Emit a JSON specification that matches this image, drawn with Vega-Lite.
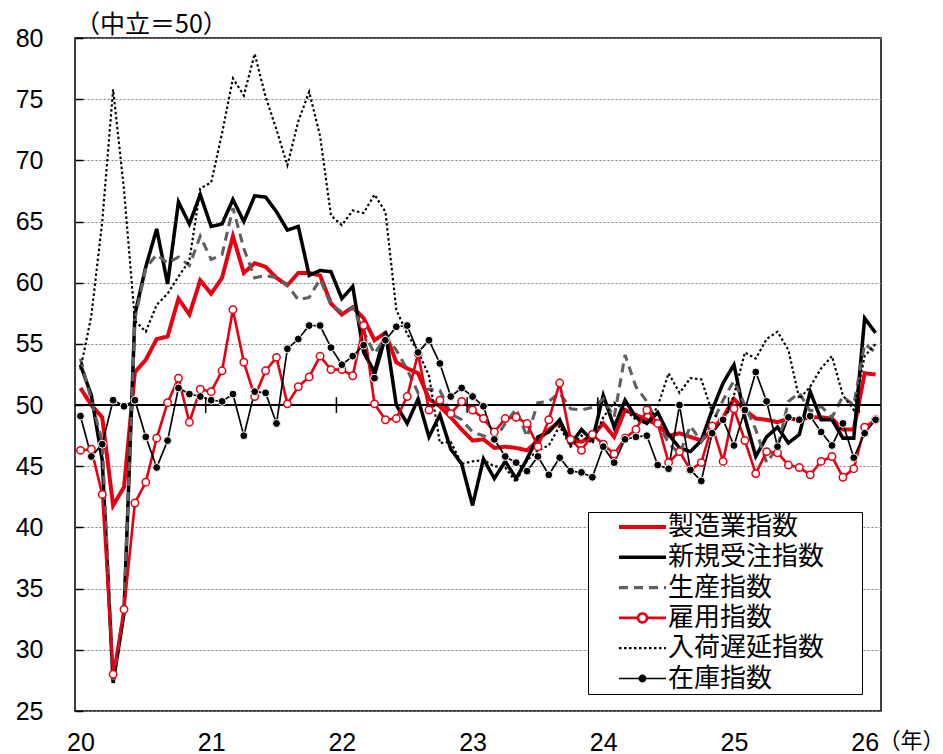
{
  "$schema": "https://vega.github.io/schema/vega-lite/v6.json",
  "width": 806,
  "height": 673,
  "autosize": {"type": "none"},
  "padding": {"left": 75, "top": 38, "right": 62, "bottom": 43},
  "background": "white",
  "title": {"text": "（中立＝50）", "anchor": "start", "frame": "group", "font": "Noto Sans CJK JP", "fontSize": 25, "fontWeight": "normal", "color": "#000", "baseline": "alphabetic", "offset": 6, "dy": 38},
  "config": {
    "font": "Liberation Sans",
    "view": {"stroke": "#000", "strokeWidth": 1.5}
  },
  "datasets": {
    "yb": [{"t": 11.5}, {"t": 23.5}, {"t": 35.5}, {"t": 47.5}, {"t": 59.5}, {"t": 71.5}],
    "pmi": [
      {"t":0,"製造業指数":51.4,"新規受注指数":53.3,"生産指数":53.8,"雇用指数":46.3,"入荷遅延指数":52.9,"在庫指数":49.1},
      {"t":1,"製造業指数":50.0,"新規受注指数":50.8,"生産指数":50.4,"雇用指数":46.4,"入荷遅延指数":57.3,"在庫指数":45.8},
      {"t":2,"製造業指数":49.0,"新規受注指数":45.5,"生産指数":47.0,"雇用指数":42.7,"入荷遅延指数":65.0,"在庫指数":46.8},
      {"t":3,"製造業指数":41.8,"新規受注指数":27.3,"生産指数":27.3,"雇用指数":28.0,"入荷遅延指数":75.8,"在庫指数":50.4},
      {"t":4,"製造業指数":43.3,"新規受注指数":33.0,"生産指数":33.5,"雇用指数":33.3,"入荷遅延指数":67.6,"在庫指数":49.9},
      {"t":5,"製造業指数":52.7,"新規受注指数":57.4,"生産指数":57.0,"雇用指数":42.0,"入荷遅延指数":56.9,"在庫指数":50.4},
      {"t":6,"製造業指数":53.7,"新規受注指数":61.3,"生産指数":61.2,"雇用指数":43.7,"入荷遅延指数":56.0,"在庫指数":47.4},
      {"t":7,"製造業指数":55.4,"新規受注指数":64.4,"生産指数":62.3,"雇用指数":47.3,"入荷遅延指数":58.2,"在庫指数":44.9},
      {"t":8,"製造業指数":55.6,"新規受注指数":59.9,"生産指数":61.6,"雇用指数":50.2,"入荷遅延指数":59.1,"在庫指数":47.1},
      {"t":9,"製造業指数":58.7,"新規受注指数":66.6,"生産指数":62.1,"雇用指数":52.2,"入荷遅延指数":60.5,"在庫指数":51.4},
      {"t":10,"製造業指数":57.4,"新規受注指数":64.8,"生産指数":61.4,"雇用指数":48.6,"入荷遅延指数":61.8,"在庫指数":50.9},
      {"t":11,"製造業指数":60.2,"新規受注指数":67.2,"生産指数":63.8,"雇用指数":51.3,"入荷遅延指数":67.7,"在庫指数":50.7},
      {"t":12,"製造業指数":59.1,"新規受注指数":64.6,"生産指数":61.9,"雇用指数":51.1,"入荷遅延指数":68.2,"在庫指数":50.4},
      {"t":13,"製造業指数":60.4,"新規受注指数":64.8,"生産指数":62.3,"雇用指数":52.8,"入荷遅延指数":72.2,"在庫指数":50.3},
      {"t":14,"製造業指数":63.8,"新規受注指数":66.8,"生産指数":66.1,"雇用指数":57.8,"入荷遅延指数":76.7,"在庫指数":50.9},
      {"t":15,"製造業指数":60.8,"新規受注指数":65.0,"生産指数":62.8,"雇用指数":53.5,"入荷遅延指数":75.3,"在庫指数":47.5},
      {"t":16,"製造業指数":61.6,"新規受注指数":67.1,"生産指数":60.4,"雇用指数":50.7,"入荷遅延指数":78.7,"在庫指数":51.1},
      {"t":17,"製造業指数":61.3,"新規受注指数":67.0,"生産指数":60.6,"雇用指数":52.8,"入荷遅延指数":75.2,"在庫指数":51.0},
      {"t":18,"製造業指数":60.4,"新規受注指数":65.8,"生産指数":60.4,"雇用指数":53.9,"入荷遅延指数":72.5,"在庫指数":48.5},
      {"t":19,"製造業指数":59.8,"新規受注指数":64.3,"生産指数":59.8,"雇用指数":50.1,"入荷遅延指数":69.6,"在庫指数":54.6},
      {"t":20,"製造業指数":60.8,"新規受注指数":64.6,"生産指数":58.6,"雇用指数":51.5,"入荷遅延指数":73.2,"在庫指数":55.4},
      {"t":21,"製造業指数":60.8,"新規受注指数":60.6,"生産指数":58.8,"雇用指数":52.3,"入荷遅延指数":75.6,"在庫指数":56.5},
      {"t":22,"製造業指数":60.6,"新規受注指数":61.0,"生産指数":60.3,"雇用指数":54.0,"入荷遅延指数":72.0,"在庫指数":56.5},
      {"t":23,"製造業指数":58.3,"新規受注指数":60.9,"生産指数":58.2,"雇用指数":52.9,"入荷遅延指数":65.5,"在庫指数":54.7},
      {"t":24,"製造業指数":57.4,"新規受注指数":58.7,"生産指数":57.6,"雇用指数":52.9,"入荷遅延指数":64.7,"在庫指数":53.3},
      {"t":25,"製造業指数":58.0,"新規受注指数":59.7,"生産指数":58.0,"雇用指数":52.4,"入荷遅延指数":65.9,"在庫指数":54.0},
      {"t":26,"製造業指数":57.1,"新規受注指数":54.3,"生産指数":56.0,"雇用指数":56.5,"入荷遅延指数":65.7,"在庫指数":54.9},
      {"t":27,"製造業指数":55.3,"新規受注指数":52.7,"生産指数":54.2,"雇用指数":50.1,"入荷遅延指数":67.2,"在庫指数":52.2},
      {"t":28,"製造業指数":55.9,"新規受注指数":56.0,"生産指数":55.6,"雇用指数":48.8,"入荷遅延指数":65.8,"在庫指数":55.3},
      {"t":29,"製造業指数":53.5,"新規受注指数":50.0,"生産指数":54.5,"雇用指数":48.9,"入荷遅延指数":57.8,"在庫指数":56.4},
      {"t":30,"製造業指数":53.0,"新規受注指数":48.5,"生産指数":52.9,"雇用指数":50.7,"入荷遅延指数":55.8,"在庫指数":56.5},
      {"t":31,"製造業指数":52.6,"新規受注指数":50.5,"生産指数":51.0,"雇用指数":54.2,"入荷遅延指数":54.4,"在庫指数":54.3},
      {"t":32,"製造業指数":50.5,"新規受注指数":47.4,"生産指数":51.3,"雇用指数":49.6,"入荷遅延指数":52.4,"在庫指数":55.3},
      {"t":33,"製造業指数":49.9,"新規受注指数":49.2,"生産指数":51.2,"雇用指数":50.4,"入荷遅延指数":46.9,"在庫指数":53.4},
      {"t":34,"製造業指数":49.0,"新規受注指数":46.4,"生産指数":49.3,"雇用指数":49.3,"入荷遅延指数":47.0,"在庫指数":50.7},
      {"t":35,"製造業指数":48.0,"新規受注指数":45.2,"生産指数":48.8,"雇用指数":50.3,"入荷遅延指数":45.2,"在庫指数":51.4},
      {"t":36,"製造業指数":47.1,"新規受注指数":41.8,"生産指数":47.8,"雇用指数":49.6,"入荷遅延指数":45.4,"在庫指数":50.7},
      {"t":37,"製造業指数":47.2,"新規受注指数":45.6,"生産指数":47.5,"雇用指数":48.9,"入荷遅延指数":45.5,"在庫指数":49.9},
      {"t":38,"製造業指数":46.5,"新規受注指数":44.0,"生産指数":47.1,"雇用指数":47.8,"入荷遅延指数":45.0,"在庫指数":47.2},
      {"t":39,"製造業指数":46.6,"新規受注指数":45.4,"生産指数":48.5,"雇用指数":48.9,"入荷遅延指数":44.9,"在庫指数":45.8},
      {"t":40,"製造業指数":46.5,"新規受注指数":44.0,"生産指数":49.7,"雇用指数":49.0,"入荷遅延指数":43.7,"在庫指数":45.3},
      {"t":41,"製造業指数":46.3,"新規受注指数":45.6,"生産指数":47.4,"雇用指数":48.5,"入荷遅延指数":45.5,"在庫指数":44.6},
      {"t":42,"製造業指数":47.1,"新規受注指数":47.4,"生産指数":50.2,"雇用指数":46.6,"入荷遅延指数":46.3,"在庫指数":45.8},
      {"t":43,"製造業指数":48.0,"新規受注指数":47.8,"生産指数":50.3,"雇用指数":48.8,"入荷遅延指数":46.7,"在庫指数":44.3},
      {"t":44,"製造業指数":48.6,"新規受注指数":48.8,"生産指数":51.0,"雇用指数":51.8,"入荷遅延指数":48.3,"在庫指数":45.7},
      {"t":45,"製造業指数":47.1,"新規受注指数":46.8,"生産指数":49.7,"雇用指数":47.2,"入荷遅延指数":46.6,"在庫指数":44.6},
      {"t":46,"製造業指数":47.0,"新規受注指数":48.0,"生産指数":49.6,"雇用指数":46.3,"入荷遅延指数":47.5,"在庫指数":44.5},
      {"t":47,"製造業指数":47.5,"新規受注指数":47.1,"生産指数":49.8,"雇用指数":47.6,"入荷遅延指数":46.9,"在庫指数":44.1},
      {"t":48,"製造業指数":48.5,"新規受注指数":50.8,"生産指数":50.5,"雇用指数":46.8,"入荷遅延指数":49.0,"在庫指数":46.6},
      {"t":49,"製造業指数":47.4,"新規受注指数":48.2,"生産指数":49.0,"雇用指数":46.0,"入荷遅延指数":50.2,"在庫指数":45.3},
      {"t":50,"製造業指数":49.6,"新規受注指数":50.4,"生産指数":54.1,"雇用指数":47.3,"入荷遅延指数":49.6,"在庫指数":47.2},
      {"t":51,"製造業指数":49.2,"新規受注指数":49.0,"生産指数":51.5,"雇用指数":48.0,"入荷遅延指数":48.8,"在庫指数":47.4},
      {"t":52,"製造業指数":48.8,"新規受注指数":48.5,"生産指数":50.3,"雇用指数":49.6,"入荷遅延指数":48.5,"在庫指数":47.5},
      {"t":53,"製造業指数":48.4,"新規受注指数":49.4,"生産指数":48.5,"雇用指数":48.5,"入荷遅延指数":49.9,"在庫指数":45.1},
      {"t":54,"製造業指数":47.5,"新規受注指数":47.6,"生産指数":46.9,"雇用指数":45.3,"入荷遅延指数":52.6,"在庫指数":44.8},
      {"t":55,"製造業指数":47.7,"新規受注指数":46.5,"生産指数":46.0,"雇用指数":46.2,"入荷遅延指数":51.0,"在庫指数":50.0},
      {"t":56,"製造業指数":47.4,"新規受注指数":46.2,"生産指数":48.3,"雇用指数":44.7,"入荷遅延指数":52.2,"在庫指数":44.7},
      {"t":57,"製造業指数":47.1,"新規受注指数":47.1,"生産指数":47.0,"雇用指数":45.3,"入荷遅延指数":52.1,"在庫指数":43.8},
      {"t":58,"製造業指数":48.0,"新規受注指数":49.6,"生産指数":48.5,"雇用指数":48.3,"入荷遅延指数":49.4,"在庫指数":47.7},
      {"t":59,"製造業指数":49.0,"新規受注指数":51.8,"生産指数":50.4,"雇用指数":45.4,"入荷遅延指数":48.6,"在庫指数":48.8},
      {"t":60,"製造業指数":50.5,"新規受注指数":53.3,"生産指数":52.0,"雇用指数":49.7,"入荷遅延指数":50.8,"在庫指数":46.7},
      {"t":61,"製造業指数":49.6,"新規受注指数":49.0,"生産指数":50.0,"雇用指数":47.1,"入荷遅延指数":54.3,"在庫指数":49.6},
      {"t":62,"製造業指数":48.9,"新規受注指数":45.8,"生産指数":48.0,"雇用指数":44.4,"入荷遅延指数":53.8,"在庫指数":52.7},
      {"t":63,"製造業指数":48.8,"新規受注指数":47.4,"生産指数":45.3,"雇用指数":46.2,"入荷遅延指数":55.4,"在庫指数":50.3},
      {"t":64,"製造業指数":48.6,"新規受注指数":48.2,"生産指数":46.5,"雇用指数":46.1,"入荷遅延指数":56.0,"在庫指数":46.6},
      {"t":65,"製造業指数":48.9,"新規受注指数":46.9,"生産指数":50.3,"雇用指数":45.1,"入荷遅延指数":54.5,"在庫指数":49.0},
      {"t":66,"製造業指数":48.8,"新規受注指数":47.6,"生産指数":51.0,"雇用指数":44.9,"入荷遅延指数":50.5,"在庫指数":48.8},
      {"t":67,"製造業指数":49.0,"新規受注指数":51.1,"生産指数":49.5,"雇用指数":44.3,"入荷遅延指数":51.5,"在庫指数":49.1},
      {"t":68,"製造業指数":49.0,"新規受注指数":48.8,"生産指数":49.9,"雇用指数":45.4,"入荷遅延指数":53.0,"在庫指数":47.8},
      {"t":69,"製造業指数":48.9,"新規受注指数":48.8,"生産指数":49.0,"雇用指数":45.8,"入荷遅延指数":54.0,"在庫指数":46.7},
      {"t":70,"製造業指数":48.0,"新規受注指数":47.3,"生産指数":50.7,"雇用指数":44.1,"入荷遅延指数":50.8,"在庫指数":48.5},
      {"t":71,"製造業指数":48.0,"新規受注指数":47.3,"生産指数":50.0,"雇用指数":44.8,"入荷遅延指数":49.6,"在庫指数":45.7},
      {"t":72,"製造業指数":52.6,"新規受注指数":57.1,"生産指数":55.0,"雇用指数":48.2,"入荷遅延指数":54.0,"在庫指数":47.7},
      {"t":73,"製造業指数":52.5,"新規受注指数":55.9,"生産指数":54.3,"雇用指数":48.8,"入荷遅延指数":55.0,"在庫指数":48.8}
    ]
  },
  "data": {"name": "pmi"},
  "layer": [
    {
      "transform": [
        {"fold": ["製造業指数", "新規受注指数", "生産指数", "雇用指数", "入荷遅延指数", "在庫指数"], "as": ["s", "v"]}
      ],
      "mark": {"type": "line", "strokeJoin": "miter"},
      "encoding": {
        "x": {
          "field": "t", "type": "quantitative",
          "scale": {"domain": [-0.5, 73.5], "nice": false, "zero": false},
          "axis": {
            "values": [0, 12, 24, 36, 48, 60, 72],
            "labelExpr": "'' + (20 + datum.value / 12)",
            "ticks": false, "domain": false, "grid": false,
            "labelFont": "Liberation Sans", "labelFontSize": 25, "labelColor": "#000", "labelPadding": 19,
            "labelFlush": false, "labelOverlap": false,
            "title": "（年）", "titleFont": "Noto Sans CJK JP", "titleFontSize": 22, "titleFontWeight": "normal", "titleColor": "#000",
            "titleX": 803, "titleY": 19, "titleAlign": "left", "titleBaseline": "top", "titleAnchor": "start"
          }
        },
        "y": {
          "field": "v", "type": "quantitative",
          "scale": {"domain": [25, 80], "nice": false, "zero": false},
          "axis": {
            "values": [25, 30, 35, 40, 45, 50, 55, 60, 65, 70, 75, 80],
            "grid": true, "gridColor": "#7f7f7f", "gridDash": [2, 2], "gridWidth": 1,
            "domain": false, "ticks": true, "tickSize": -8, "tickColor": "#000", "tickWidth": 1.5,
            "labelFont": "Liberation Sans", "labelFontSize": 25, "labelColor": "#000", "labelPadding": 40,
            "labelFlush": false, "labelOverlap": false,
            "title": null
          }
        },
        "color": {
          "field": "s", "type": "nominal",
          "scale": {
            "domain": ["製造業指数", "新規受注指数", "生産指数", "雇用指数", "入荷遅延指数", "在庫指数"],
            "range": ["#e60012", "#000000", "#606060", "#e60012", "#000000", "#000000"]
          },
          "legend": {
            "orient": "none", "legendX": 513, "legendY": 474,
            "title": "　", "titleOrient": "right", "titleFont": "Noto Sans CJK JP", "titleFontSize": 26, "titlePadding": 38,
            "strokeColor": "#000", "fillColor": "#ffffff", "padding": 0,
            "labelFont": "Noto Sans CJK JP", "labelFontSize": 26, "labelColor": "#000", "labelLimit": 400,
            "symbolSize": 2209, "symbolOffset": 29, "labelOffset": 0,
            "clipHeight": 30, "rowPadding": 0.3,
            "encode": {
              "symbols": {
                "update": {
                  "shape": {"signal": "datum.value === '雇用指数' ? 'M-1,0L-0.2,0M0.2,0L1,0M0.19,0A0.19,0.19,0,1,1,-0.19,0A0.19,0.19,0,1,1,0.19,0Z' : datum.value === '在庫指数' ? 'M-1,0L1,0M0.13,0A0.13,0.13,0,1,1,-0.13,0A0.13,0.13,0,1,1,0.13,0Z' : 'M-1,0L1,0'"},
                  "fill": {"signal": "datum.value === '雇用指数' ? '#ffffff' : datum.value === '在庫指数' ? '#000000' : 'transparent'"}
                }
              }
            }
          }
        },
        "strokeDash": {
          "field": "s", "type": "nominal",
          "scale": {
            "domain": ["製造業指数", "新規受注指数", "生産指数", "雇用指数", "入荷遅延指数", "在庫指数"],
            "range": [[1, 0], [1, 0], [9, 6], [1, 0], [2.5, 2.5], [1, 0]]
          }
        },
        "strokeWidth": {
          "field": "s", "type": "nominal",
          "scale": {
            "domain": ["製造業指数", "新規受注指数", "生産指数", "雇用指数", "入荷遅延指数", "在庫指数"],
            "range": [4, 1.7, 3, 2.5, 2.5, 3]
          }
        }
      }
    },
    {
      "mark": {"type": "rule", "color": "#000", "strokeWidth": 2},
      "encoding": {
        "y": {"datum": 50, "type": "quantitative"}
      }
    },
    {
      "data": {"name": "yb"},
      "mark": {"type": "rule", "color": "#000", "strokeWidth": 1.5},
      "encoding": {
        "x": {"field": "t", "type": "quantitative"},
        "y": {"datum": 49.35, "type": "quantitative"},
        "y2": {"datum": 50.65}
      }
    },
    {
      "mark": {"type": "point", "shape": "circle", "filled": true, "fill": "#ffffff", "stroke": "#e60012", "strokeWidth": 1.5, "size": 55, "opacity": 1},
      "encoding": {
        "x": {"field": "t", "type": "quantitative"},
        "y": {"field": "雇用指数", "type": "quantitative"}
      }
    },
    {
      "mark": {"type": "circle", "fill": "#000000", "stroke": "#ffffff", "strokeWidth": 1, "size": 62, "opacity": 1},
      "encoding": {
        "x": {"field": "t", "type": "quantitative"},
        "y": {"field": "在庫指数", "type": "quantitative"}
      }
    }
  ]
}
